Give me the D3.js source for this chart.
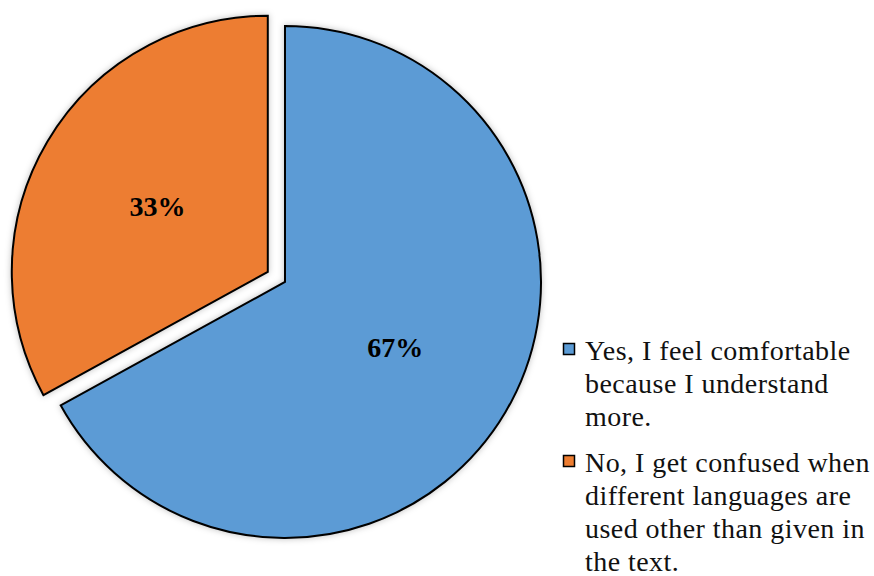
<!DOCTYPE html>
<html><head><meta charset="utf-8">
<script src="https://cdn.jsdelivr.net/npm/d3@7"></script>
<style>html,body{margin:0;padding:0;background:#fff;}</style>
</head><body>
<svg id="c" width="874" height="576"></svg>
<script>
const categories = ["Yes, I feel comfortable because I understand more.",
                    "No, I get confused when different languages are used other than given in the text."];
const values = [67, 33];
const percentLabels = ["67%", "33%"];
const legendLines = [["Yes, I feel comfortable", "because I understand", "more."],
                     ["No, I get confused when", "different languages are", "used other than given in", "the text."]];
const colors = ["#5B9BD5", "#ED7D31"];
const explode = [0, 20];

const svg = d3.select("#c");
const defs = svg.append("defs");
const f = defs.append("filter").attr("id","sh").attr("x","-10%").attr("y","-10%").attr("width","120%").attr("height","120%");
f.append("feDropShadow").attr("dx",0).attr("dy",0).attr("stdDeviation",3).attr("flood-color","#000").attr("flood-opacity",0.25);

const cx = 285, cy = 282, R = 256;
const pie = d3.pie().sort(null).value(d => d);
const arc = d3.arc().innerRadius(0).outerRadius(R);
const arcs = pie(values);
const g = svg.append("g").attr("transform", `translate(${cx},${cy})`);

const sl = g.selectAll("g.s").data(arcs).join("g").attr("class","s")
  .attr("transform", (d,i) => {
    const m = (d.startAngle + d.endAngle)/2;
    return `translate(${Math.sin(m)*explode[i]},${-Math.cos(m)*explode[i]})`;
  });
sl.append("path").attr("d", arc).attr("fill", (d,i) => colors[i])
  .attr("stroke", "#000").attr("stroke-width", 2).attr("stroke-linejoin","miter")
  .attr("filter","url(#sh)");
sl.append("text").attr("transform", d => `translate(${arc.centroid(d)})`)
  .attr("text-anchor","middle").attr("dy","0.35em")
  .attr("font-family","'Liberation Serif','Times New Roman',serif").attr("font-weight","bold")
  .attr("font-size", 28).attr("fill","#000")
  .text((d,i) => percentLabels[i]);

const lg = svg.append("g");
const legY0 = [350, 462];
const lineH = 33;
legendLines.forEach((lines, i) => {
  lg.append("rect").attr("x", 563.5).attr("y", legY0[i]-6.5).attr("width", 11).attr("height", 11)
    .attr("fill", colors[i]).attr("stroke","#000").attr("stroke-width",1.5);
  const t = lg.append("text").attr("font-family","'Liberation Serif','Times New Roman',serif")
    .attr("font-size", 28).attr("letter-spacing", 0.45).attr("fill","#111");
  lines.forEach((ln, j) => {
    t.append("tspan").attr("x", 585).attr("y", legY0[i] + j*lineH).attr("dy","0.35em").text(ln);
  });
});
</script>
</body></html>
